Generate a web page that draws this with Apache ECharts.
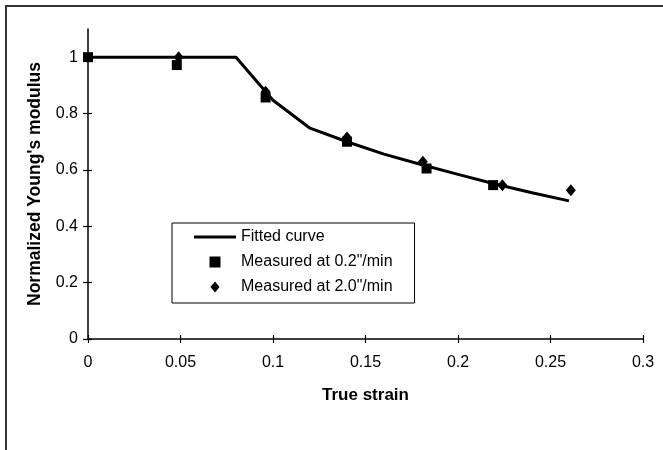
<!DOCTYPE html>
<html lang="en">
<head>
	<meta charset="UTF-8">
	<title>Normalized Young's modulus vs true strain</title>
	<script src="https://cdn.jsdelivr.net/npm/echarts@6/dist/echarts.min.js"></script>
	<style>
		body { margin: 0; background: #fff; }
	</style>
</head>
<body>
	<div id="main" style="width:663px; height:450px"></div>
	<script>
		// data
		var fitStrain = [0, 0.08, 0.1, 0.12, 0.14, 0.16, 0.18, 0.2, 0.22, 0.24, 0.26];
		var fitModulus = [1, 1, 0.847, 0.748, 0.70, 0.656, 0.619, 0.584, 0.55, 0.519, 0.49];
		var slowStrain = [0, 0.048, 0.096, 0.14, 0.183, 0.219];
		var slowModulus = [1, 0.972, 0.857, 0.70, 0.605, 0.546];
		var fastStrain = [0.049, 0.096, 0.14, 0.181, 0.224, 0.261];
		var fastModulus = [1.0, 0.877, 0.715, 0.629, 0.546, 0.528];
		var yTicks = [0, 0.2, 0.4, 0.6, 0.8, 1];
		var xTicks = [0, 0.05, 0.1, 0.15, 0.2, 0.25, 0.3];

		function pairs(xs, ys) {
			return xs.map(function (x, i) { return [x, ys[i]]; });
		}

		var font = 'Arial, "Liberation Sans", sans-serif';
		var myChart = echarts.init(document.getElementById("main"));
		myChart.setOption({
			animation: false,
			textStyle: { fontFamily: font },
			graphic: [{
				type: 'polyline',
				shape: { points: [[6, 450], [6, 6], [663, 6]] },
				style: { stroke: '#333', lineWidth: 2, fill: null },
				silent: true
			}],
			legend: {
				orient: 'vertical',
				left: 172,
				top: 223,
				padding: [6, 22, 8, 22],
				itemGap: 9,
				itemWidth: 42,
				itemHeight: 11,
				borderColor: '#000',
				borderWidth: 1,
				borderRadius: 0,
				textStyle: { fontFamily: font, fontSize: 16, color: '#000' },
				data: [
					{ name: 'Fitted curve', icon: 'path://M0,0 H42 V3 H0 Z' },
					{ name: 'Measured at 0.2"/min', icon: 'path://M0,0 H10 V10 H0 Z' },
					{ name: 'Measured at 2.0"/min', icon: 'path://M5,0 L10,6 L5,12 L0,6 Z' }
				]
			},
			grid: { left: 88, right: 20, top: 29, bottom: 111 },
			xAxis: [{
				type: 'value',
				min: 0,
				max: 0.3,
				interval: 0.05,
				name: 'True strain',
				nameLocation: 'middle',
				nameGap: 48,
				nameTextStyle: { fontFamily: font, fontSize: 17, fontWeight: 'bold', color: '#000' },
				splitLine: { show: false },
				axisLine: { lineStyle: { color: '#000', width: 1.5 } },
				axisTick: { length: 4, lineStyle: { color: '#000', width: 1.2 }, customValues: xTicks },
				axisLabel: { fontSize: 16, color: '#000', margin: 16, customValues: xTicks }
			}, {
				type: 'value',
				min: 0,
				max: 0.3,
				interval: 0.05,
				position: 'bottom',
				splitLine: { show: false },
				axisLine: { show: false },
				axisLabel: { show: false },
				axisTick: { inside: true, length: 4, lineStyle: { color: '#000', width: 1.2 }, customValues: xTicks }
			}],
			yAxis: [{
				type: 'value',
				min: 0,
				max: 1.1,
				interval: 0.2,
				name: "Normalized Young's modulus",
				nameLocation: 'middle',
				nameGap: 44,
				nameTextStyle: { fontFamily: font, fontSize: 17.5, fontWeight: 'bold', color: '#000' },
				splitLine: { show: false },
				axisLine: { lineStyle: { color: '#000', width: 1.5 } },
				axisTick: { length: 5, lineStyle: { color: '#000', width: 1.2 }, customValues: yTicks },
				axisLabel: { fontSize: 16, color: '#000', margin: 10, customValues: yTicks }
			}, {
				type: 'value',
				min: 0,
				max: 1.1,
				interval: 0.2,
				position: 'left',
				splitLine: { show: false },
				axisLine: { show: false },
				axisLabel: { show: false },
				axisTick: { inside: true, length: 4, lineStyle: { color: '#000', width: 1.2 }, customValues: yTicks }
			}],
			series: [{
				name: 'Fitted curve',
				type: 'line',
				data: pairs(fitStrain, fitModulus),
				symbol: 'none',
				color: '#000',
				lineStyle: { color: '#000', width: 3 },
				z: 2
			}, {
				name: 'Measured at 0.2"/min',
				type: 'scatter',
				data: pairs(slowStrain, slowModulus),
				symbol: 'rect',
				symbolSize: 10,
				itemStyle: { color: '#000', opacity: 1 },
				z: 4
			}, {
				name: 'Measured at 2.0"/min',
				type: 'scatter',
				data: pairs(fastStrain, fastModulus),
				symbol: 'diamond',
				symbolSize: [10, 12],
				itemStyle: { color: '#000', opacity: 1 },
				z: 3
			}]
		});
	</script>
</body>
</html>
